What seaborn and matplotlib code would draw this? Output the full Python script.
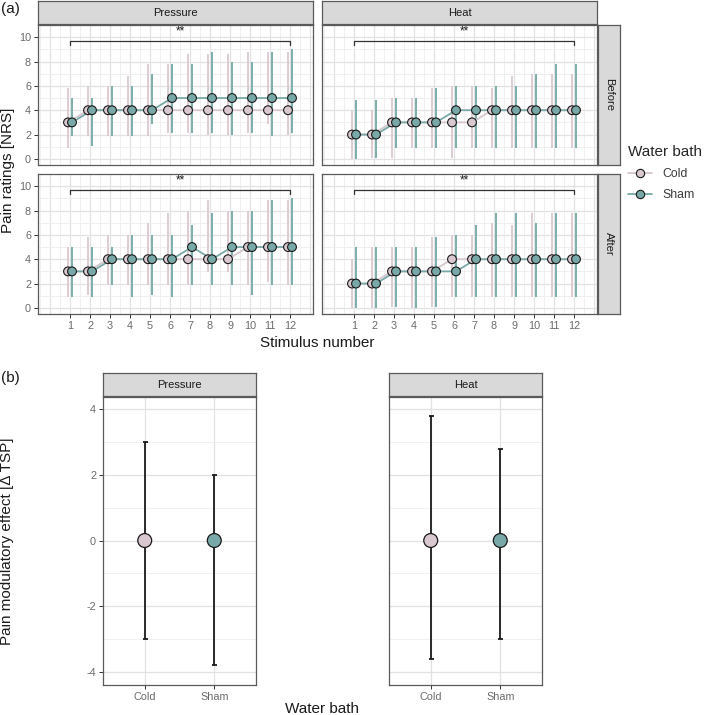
import numpy as np
import pandas as pd
import matplotlib
matplotlib.use('Agg')
import matplotlib.pyplot as plt
from matplotlib.lines import Line2D
import seaborn as sns

# ---------------- data ----------------
stimulus = list(range(1, 13))
baths = ['Cold', 'Sham']
modalities = ['Pressure', 'Heat']
times = ['Before', 'After']

# Pressure - Before
pb_cold_med = [3, 4, 4, 4, 4, 4, 4, 4, 4, 4, 4, 4]
pb_cold_lo = [0.9, 1.9, 1.9, 1.9, 1.9, 2.1, 2.1, 1.95, 1.95, 2.1, 2.9, 1.95]
pb_cold_hi = [5.8, 6.0, 6.0, 6.8, 7.8, 7.8, 8.6, 8.6, 8.6, 8.8, 8.8, 8.8]
pb_sham_med = [3, 4, 4, 4, 4, 5, 5, 5, 5, 5, 5, 5]
pb_sham_lo = [1.9, 1.1, 1.9, 1.9, 2.9, 2.1, 2.1, 2.1, 1.95, 2.1, 1.9, 2.1]
pb_sham_hi = [5.0, 5.0, 6.0, 6.0, 7.0, 7.8, 7.8, 8.8, 8.0, 8.0, 8.8, 9.0]

# Heat - Before
hb_cold_med = [2, 2, 3, 3, 3, 3, 3, 4, 4, 4, 4, 4]
hb_cold_lo = [0.0, 0.1, 0.1, 0.9, 0.9, 0.1, 0.9, 0.9, 0.9, 0.9, 0.9, 0.9]
hb_cold_hi = [4.0, 4.0, 5.0, 5.0, 5.8, 6.0, 6.0, 5.8, 6.8, 7.0, 7.0, 7.0]
hb_sham_med = [2, 2, 3, 3, 3, 4, 4, 4, 4, 4, 4, 4]
hb_sham_lo = [0.0, 0.1, 0.9, 0.9, 0.9, 0.9, 0.9, 0.9, 0.9, 0.9, 0.9, 0.9]
hb_sham_hi = [4.85, 4.85, 5.0, 5.0, 5.8, 6.0, 6.0, 6.0, 6.0, 7.0, 7.8, 7.8]

# Pressure - After
pa_cold_med = [3, 3, 4, 4, 4, 4, 4, 4, 4, 5, 5, 5]
pa_cold_lo = [0.9, 1.1, 1.9, 1.9, 1.9, 1.9, 1.9, 2.95, 2.95, 1.9, 2.1, 1.9]
pa_cold_hi = [5.0, 5.8, 6.0, 6.0, 7.0, 7.8, 8.0, 8.85, 8.0, 8.0, 8.85, 8.85]
pa_sham_med = [3, 3, 4, 4, 4, 4, 5, 4, 5, 5, 5, 5]
pa_sham_lo = [0.9, 0.9, 1.9, 0.9, 1.1, 0.9, 1.9, 1.9, 1.9, 1.1, 1.9, 1.9]
pa_sham_hi = [5.0, 5.0, 5.0, 6.0, 6.0, 6.0, 6.85, 7.8, 8.0, 8.0, 8.85, 9.0]

# Heat - After
ha_cold_med = [2, 2, 3, 3, 3, 4, 4, 4, 4, 4, 4, 4]
ha_cold_lo = [0.0, 0.0, 0.1, 0.0, 0.1, 0.9, 0.9, 0.9, 0.9, 0.9, 0.9, 0.9]
ha_cold_hi = [4.0, 5.0, 5.0, 5.0, 5.8, 6.0, 6.0, 7.0, 6.85, 7.8, 7.8, 7.8]
ha_sham_med = [2, 2, 3, 3, 3, 3, 4, 4, 4, 4, 4, 4]
ha_sham_lo = [0.0, 0.0, 0.1, 0.0, 0.1, 0.9, 0.9, 0.9, 0.9, 0.9, 0.9, 0.9]
ha_sham_hi = [5.0, 5.0, 5.0, 5.0, 5.8, 6.0, 6.85, 7.8, 7.8, 7.0, 7.8, 7.8]

sig_label = '**'

# (b) pain modulatory effect
b_modality = ['Pressure', 'Pressure', 'Heat', 'Heat']
b_bath = ['Cold', 'Sham', 'Cold', 'Sham']
b_mean = [0, 0, 0, 0]
b_lo = [-3.0, -3.8, -3.6, -3.0]
b_hi = [3.0, 2.0, 3.8, 2.8]

# ---------------- tables ----------------
series = {
    ('Pressure', 'Before', 'Cold'): (pb_cold_med, pb_cold_lo, pb_cold_hi),
    ('Pressure', 'Before', 'Sham'): (pb_sham_med, pb_sham_lo, pb_sham_hi),
    ('Heat', 'Before', 'Cold'): (hb_cold_med, hb_cold_lo, hb_cold_hi),
    ('Heat', 'Before', 'Sham'): (hb_sham_med, hb_sham_lo, hb_sham_hi),
    ('Pressure', 'After', 'Cold'): (pa_cold_med, pa_cold_lo, pa_cold_hi),
    ('Pressure', 'After', 'Sham'): (pa_sham_med, pa_sham_lo, pa_sham_hi),
    ('Heat', 'After', 'Cold'): (ha_cold_med, ha_cold_lo, ha_cold_hi),
    ('Heat', 'After', 'Sham'): (ha_sham_med, ha_sham_lo, ha_sham_hi),
}
frames = []
for (m, t, b), (med, lo, hi) in series.items():
    frames.append(pd.DataFrame({'modality': m, 'time': t, 'bath': b,
                                'stimulus': stimulus, 'med': med, 'lo': lo, 'hi': hi}))
df = pd.concat(frames, ignore_index=True)
bdf = pd.DataFrame({'modality': b_modality, 'bath': b_bath, 'mean': b_mean,
                    'lo': b_lo, 'hi': b_hi})

# ---------------- style ----------------
sns.set_theme(style='white')
plt.rcParams['font.family'] = ['Liberation Sans', 'DejaVu Sans']
plt.rcParams['axes.unicode_minus'] = False

W, H, DPI = 709, 715, 100
fig = plt.figure(figsize=(W / DPI, H / DPI), dpi=DPI)

FILL = {'Cold': '#D9C8D0', 'Sham': '#78A8A7'}
LINEC = {'Cold': '#D6C6CD', 'Sham': '#78A8A7'}
ERRC = {'Cold': '#DDCCD4', 'Sham': '#7BAEAC'}
DODGE = {'Cold': -0.1, 'Sham': 0.1}
GRID_MAJ = '#E2E2E2'
GRID_MIN = '#EEEEEE'
BORDER = '#5A5A5A'
TICKLAB = '#6A6A6A'


def rect(x0, y0, x1, y1):
    return [x0 / W, 1 - y1 / H, (x1 - x0) / W, (y1 - y0) / H]


def style_ax(ax):
    ax.set_facecolor('white')
    for s in ax.spines.values():
        s.set_visible(True)
        s.set_color(BORDER)
        s.set_linewidth(0.9)
    ax.grid(True, which='major', color=GRID_MAJ, lw=0.9)
    ax.grid(True, which='minor', color=GRID_MIN, lw=0.6)
    ax.set_axisbelow(True)
    ax.tick_params(which='major', length=3, width=0.7, color='#333333',
                   labelsize=7.8, labelcolor=TICKLAB, pad=2,
                   bottom=True, left=True)
    ax.tick_params(which='minor', length=0, bottom=False, left=False)
    ax.set_xlabel('')
    ax.set_ylabel('')


def strip(x0, y0, x1, y1, text, rot=0):
    sax = fig.add_axes(rect(x0, y0, x1, y1))
    sax.set_facecolor('#D9D9D9')
    sax.set_xticks([])
    sax.set_yticks([])
    for s in sax.spines.values():
        s.set_visible(True)
        s.set_color(BORDER)
        s.set_linewidth(0.9)
    sax.text(0.5, 0.5, text, rotation=rot, ha='center', va='center',
             fontsize=8, color='#1A1A1A', transform=sax.transAxes)


# ---------------- panel (a) ----------------
col_x = {'Pressure': (38, 313), 'Heat': (322, 597)}
row_y = {'Before': (25, 165), 'After': (174, 314)}

for m in modalities:
    x0, x1 = col_x[m]
    strip(x0, 1, x1, 24, m)
for t in times:
    y0, y1 = row_y[t]
    strip(598, y0, 620, y1, t, rot=-90)

for t in times:
    for m in modalities:
        x0, x1 = col_x[m]
        y0, y1 = row_y[t]
        ax = fig.add_axes(rect(x0, y0, x1, y1))
        style_ax(ax)
        sub = df[(df.modality == m) & (df.time == t)].copy()
        sub['x'] = sub['stimulus'] + sub['bath'].map(DODGE)
        for b in baths:
            bb = sub[sub.bath == b]
            ax.vlines(bb['x'], bb['lo'], bb['hi'], color=ERRC[b], lw=1.4, zorder=1)
        sns.lineplot(data=sub, x='x', y='med', hue='bath', hue_order=baths,
                     palette=LINEC, lw=1.3, estimator=None, legend=False,
                     ax=ax, zorder=2)
        sns.scatterplot(data=sub, x='x', y='med', hue='bath', hue_order=baths,
                        palette=FILL, s=40, edgecolor='#1A1A1A', linewidth=0.8,
                        legend=False, ax=ax, zorder=3)
        # significance bracket
        ax.plot([stimulus[0], stimulus[0], stimulus[-1], stimulus[-1]],
                [9.35, 9.7, 9.7, 9.35], color='#333333', lw=0.9, zorder=4)
        ax.text((stimulus[0] + stimulus[-1]) / 2, 10.45, sig_label, ha='center',
                va='center', fontsize=8.5, color='#1A1A1A')
        ax.set_xlim(-0.6, 13.15)
        ax.set_ylim(-0.5, 11)
        ax.set_xticks(range(0, 14))
        ax.set_xticks(np.arange(-0.5, 13.5, 1.0), minor=True)
        ax.set_yticks([0, 2, 4, 6, 8, 10])
        ax.set_yticks([1, 3, 5, 7, 9], minor=True)
        ax.set_xticklabels([str(i) if 1 <= i <= 12 else '' for i in range(0, 14)])
        for tk, loc in zip(ax.xaxis.get_major_ticks(), range(0, 14)):
            if loc < 1 or loc > 12:
                tk.tick1line.set_visible(False)
        ax.set_xlabel('')
        ax.set_ylabel('')
        if t == 'Before':
            ax.tick_params(axis='x', which='major', bottom=False, labelbottom=False)
        if m == 'Heat':
            ax.tick_params(axis='y', which='major', left=False, labelleft=False)

fig.text(8 / W, 1 - 170 / H, 'Pain ratings [NRS]', rotation=90, ha='center',
         va='center', fontsize=11, color='#1A1A1A')
fig.text(317 / W, 1 - 347 / H, 'Stimulus number', ha='center', va='baseline',
         fontsize=11, color='#1A1A1A')
fig.text(1 / W, 1 - 9 / H, '(a)', ha='left', va='center', fontsize=11, color='#1A1A1A')

handles = [Line2D([0], [0], color=LINEC[b], lw=1.3, marker='o', markersize=6,
                  markerfacecolor=FILL[b], markeredgecolor='#1A1A1A',
                  markeredgewidth=0.8) for b in baths]
leg = fig.legend(handles=handles, labels=baths, title='Water bath',
                 loc='upper left', bbox_to_anchor=(617 / W, 1 - 134 / H),
                 frameon=False, fontsize=8.8, title_fontsize=11,
                 handlelength=2.0, handletextpad=0.8, labelspacing=0.75,
                 alignment='left')
for txt in leg.get_texts():
    txt.set_color('#3A3A3A')

# ---------------- panel (b) ----------------
b_cols = {'Pressure': (103, 256), 'Heat': (389, 542)}
for m in modalities:
    x0, x1 = b_cols[m]
    strip(x0, 373, x1, 396, m)
    ax = fig.add_axes(rect(x0, 397, x1, 685))
    style_ax(ax)
    sub = bdf[bdf.modality == m].reset_index(drop=True)
    xs = np.arange(len(sub))
    ax.errorbar(xs, sub['mean'], yerr=[sub['mean'] - sub['lo'], sub['hi'] - sub['mean']],
                fmt='none', ecolor='#1A1A1A', elinewidth=1.3, capsize=1.8,
                capthick=1.3, zorder=2)
    sns.scatterplot(data=sub, x='bath', y='mean', hue='bath', hue_order=baths,
                    palette=FILL, s=100, edgecolor='#1A1A1A', linewidth=0.9,
                    legend=False, ax=ax, zorder=3)
    ax.set_xlim(-0.6, 1.6)
    ax.set_ylim(-4.4, 4.37)
    ax.set_xticks(xs)
    ax.set_xticklabels(list(sub['bath']))
    ax.set_yticks([-4, -2, 0, 2, 4])
    ax.set_yticks([-3, -1, 1, 3], minor=True)
    ax.set_xlabel('')
    ax.set_ylabel('')
    if m == 'Heat':
        ax.tick_params(axis='y', which='major', left=False, labelleft=False)

fig.text(7 / W, 1 - 541 / H, 'Pain modulatory effect [Δ TSP]', rotation=90,
         ha='center', va='center', fontsize=11, color='#1A1A1A')
fig.text(322 / W, 1 - 713 / H, 'Water bath', ha='center', va='baseline',
         fontsize=11, color='#1A1A1A')
fig.text(1 / W, 1 - 378 / H, '(b)', ha='left', va='center', fontsize=11, color='#1A1A1A')

fig.savefig('out.png', dpi=DPI, facecolor='white')
